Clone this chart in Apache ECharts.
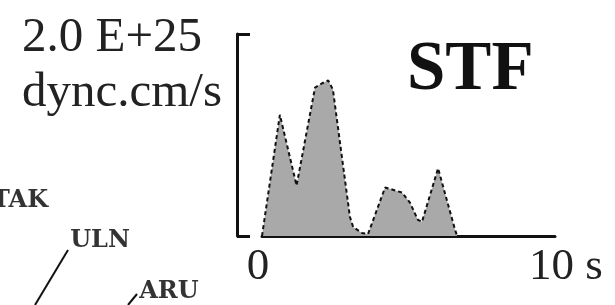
<!DOCTYPE html>
<html>
<head>
<meta charset="utf-8">
<script src="https://cdn.jsdelivr.net/npm/echarts@6/dist/echarts.min.js"></script>
<style>
  html, body { margin: 0; padding: 0; background: #fff; }
  #stf { width: 615px; height: 305px; }
</style>
</head>
<body>
<div id="stf"></div>
<script>
// source time function, time in s, moment rate in units of 1E+25 dyne.cm/s
let times = [0, 0.61, 1.18, 1.81, 2.04, 2.26, 2.42, 3.0, 3.11, 3.41, 3.62, 4.2, 4.44, 4.78, 5.05, 5.32, 5.46, 6.01, 6.59, 6.66];
let rates = [0, 1.20, 0.50, 1.47, 1.51, 1.54, 1.45, 0.19, 0.09, 0.03, 0.02, 0.48, 0.46, 0.43, 0.33, 0.16, 0.14, 0.67, 0.06, 0];

let xTicks = ['0', '10 s'];
let yScaleText = ['2.0 E+25', 'dync.cm/s'];
let titleText = 'STF';

// station names left over from the map panel (map units of the crop)
let stationNames = ['TAK', 'ULN', 'ARU'];
let stationX = [20, 100, 169];
let stationY = [21, 61, 112];
// leader lines from the stations
let leaderFrom = [[68, 70], [137, 114]];
let leaderTo = [[35, 125], [128, 125]];

let myChart = echarts.init(document.getElementById('stf'));

let curve = [];
for (let i = 0; i < times.length; i++) {
    curve.push([times[i], rates[i]]);
}
let stations = [];
for (let i = 0; i < stationNames.length; i++) {
    stations.push({ name: stationNames[i], value: [stationX[i], stationY[i]] });
}
let leaders = [];
for (let i = 0; i < leaderFrom.length; i++) {
    leaders.push({ coords: [leaderFrom[i], leaderTo[i]] });
}

let serif = '"Liberation Serif", "Times New Roman", serif';

let option = {
    backgroundColor: '#ffffff',
    animation: false,
    title: {
        text: titleText,
        left: 402,
        top: 32,
        textStyle: { fontFamily: serif, fontSize: 69, fontWeight: 'bold', color: '#111' }
    },
    graphic: [
        {
            type: 'text', left: 22, top: 14,
            style: { text: yScaleText[0], font: '49px ' + serif, fill: '#222' }
        },
        {
            type: 'text', left: 22, top: 69,
            style: { text: yScaleText[1], font: '49px ' + serif, fill: '#222' }
        }
    ],
    grid: [
        { left: 262, right: 60, top: 34, bottom: 69 },
        { left: 0, top: 180, width: 230, height: 125 }
    ],
    xAxis: [
        {
            type: 'value', gridIndex: 0,
            min: 0, max: 10, interval: 10,
            splitLine: { show: false },
            axisTick: { show: false },
            axisLine: { lineStyle: { color: '#111', width: 3 } },
            axisLabel: {
                margin: 9,
                formatter: function (v) {
                    return v === 0 ? '{a|' + xTicks[0] + '}' : '{b|' + xTicks[1] + '}';
                },
                rich: {
                    a: { fontFamily: serif, fontSize: 45, color: '#222', padding: [0, 8, 0, 0] },
                    b: { fontFamily: serif, fontSize: 45, color: '#222', padding: [0, 0, 0, 22] }
                }
            }
        },
        { type: 'value', gridIndex: 1, min: 0, max: 230, show: false }
    ],
    yAxis: [
        {
            type: 'value', gridIndex: 0,
            min: 0, max: 2, interval: 2,
            offset: 25,
            splitLine: { show: false },
            axisLabel: { show: false },
            axisLine: { show: true, onZero: false, lineStyle: { color: '#111', width: 3 } },
            axisTick: { show: true, inside: true, length: 13, lineStyle: { color: '#111', width: 3 } }
        },
        { type: 'value', gridIndex: 1, min: 0, max: 125, inverse: true, show: false }
    ],
    series: [
        {
            type: 'line',
            xAxisIndex: 0, yAxisIndex: 0,
            data: curve,
            symbol: 'none',
            lineStyle: { color: '#111', width: 2, type: [4, 3] },
            areaStyle: { color: '#a9a9a9', opacity: 1 },
            z: 1
        },
        {
            type: 'lines',
            coordinateSystem: 'cartesian2d',
            xAxisIndex: 1, yAxisIndex: 1,
            data: leaders,
            lineStyle: { color: '#111', width: 2, opacity: 1 }
        },
        {
            type: 'scatter',
            xAxisIndex: 1, yAxisIndex: 1,
            data: stations,
            symbolSize: 0,
            label: {
                show: true,
                position: 'inside',
                formatter: '{b}',
                fontFamily: '"DejaVu Serif", serif',
                fontWeight: 'bold',
                fontSize: 24,
                color: '#000'
            }
        }
    ]
};
myChart.setOption(option);
</script>
</body>
</html>
